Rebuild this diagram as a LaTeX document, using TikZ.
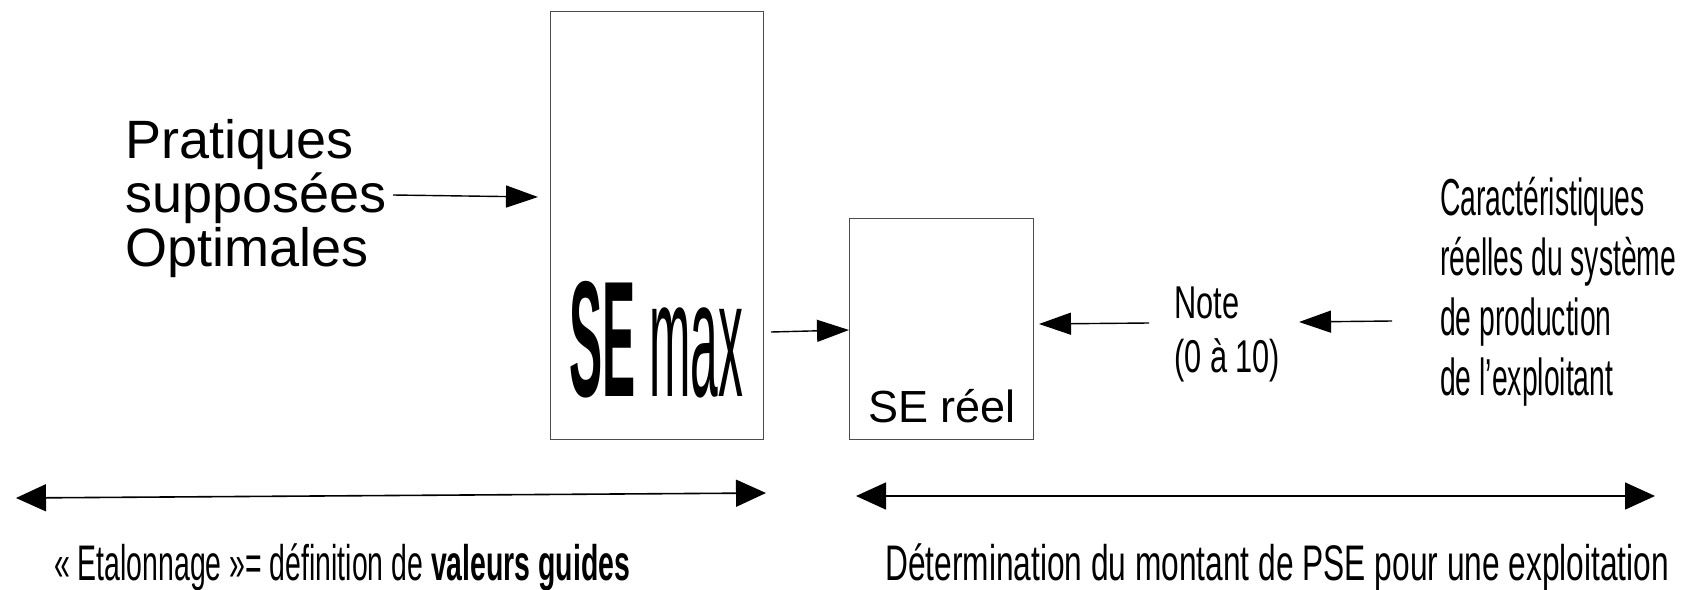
\documentclass[tikz,border=0pt]{standalone}
\usepackage{fontspec}
\setmainfont{Liberation Sans}
\usetikzlibrary{arrows.meta}
\newcommand\hfit[2]{\resizebox{#1}{\height}{#2}}
\begin{document}
\begin{tikzpicture}[x=1pt,y=-1pt,
  box/.style={draw=black!70, line width=1.2pt, inner sep=0pt, anchor=north west},
  conn/.style={line width=1.4pt, -{Triangle[length=32pt,width=22pt]}},
  span/.style={line width=1.6pt, {Triangle[length=30pt,width=27pt]}-{Triangle[length=30pt,width=27pt]}},
  txt/.style={inner sep=0pt, anchor=base west}]
\useasboundingbox (0,0) rectangle (1688,589);

% boxes
\node[box, minimum width=213pt, minimum height=428pt] (semax) at (550,11) {};
\node[box, minimum width=184pt, minimum height=221pt] (sereel) at (849,218) {};

% labels
\node[txt] (semaxt) at (569,396) {\hfit{174pt}{\fontsize{165}{165}\selectfont\textbf{SE} max}};
\node[txt] (sereelt) at (868,422) {\fontsize{45}{50}\selectfont SE réel};

\node[txt] (prat) at (125,158) {\fontsize{54}{50}\selectfont\begin{tabular}[t]{@{}l@{}}Pratiques\\ supposées\\ Optimales\end{tabular}};

\node[txt] (note) at (1174,318) {\hfit{106pt}{\fontsize{46}{54}\selectfont\begin{tabular}[t]{@{}l@{}}Note\\ (0 à 10)\end{tabular}}};

\node[txt] (carac) at (1440,215) {\hfit{236pt}{\fontsize{52}{60}\selectfont\begin{tabular}[t]{@{}l@{}}Caractéristiques\\ réelles du système\\ de production\\ de l’exploitant\end{tabular}}};

\node[txt] (etal) at (54,580) {\hfit{576pt}{\fontsize{50}{56}\selectfont « Etalonnage »= définition de \textbf{valeurs guides}}};
\node[txt] (deter) at (885,580) {\hfit{784pt}{\fontsize{50}{56}\selectfont Détermination du montant de PSE pour une exploitation}};

% connector end points
\coordinate (p1) at (393,195);
\coordinate (p1e) at (538,197);
\coordinate (p2) at (771,332);
\coordinate (p3) at (1149,323);
\coordinate (p3e) at (1039,324);
\coordinate (p4) at (1392,321);
\coordinate (p4e) at (1299,322);
\coordinate (l1) at (16,498);
\coordinate (l2) at (766,493);
\coordinate (r1) at (856,496);
\coordinate (r2) at (1655,496);

\draw[conn] (p1) -- (p1e);
\draw[conn] (p2) -- (sereel.west |- 0,330);
\draw[conn] (p3) -- (p3e);
\draw[conn] (p4) -- (p4e);
\draw[span] (l1) -- (l2);
\draw[span] (r1) -- (r2);
\end{tikzpicture}
\end{document}
